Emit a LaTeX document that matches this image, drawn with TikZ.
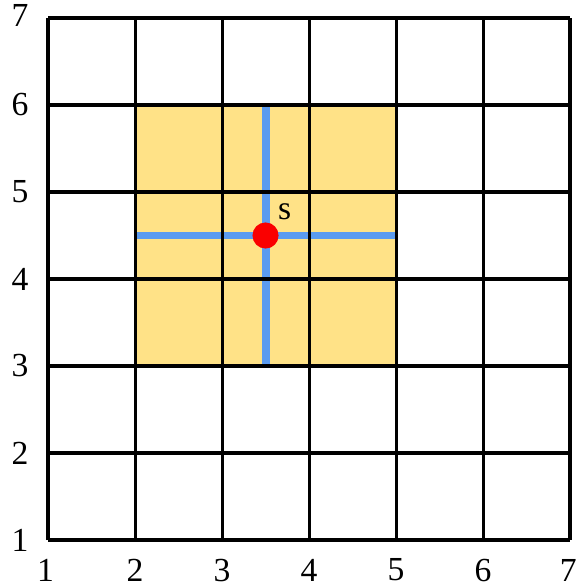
\documentclass[tikz,border=0pt]{standalone}
\usepackage{fontspec}
\setmainfont{Liberation Serif}
\usepackage{xcolor}
\usetikzlibrary{positioning}

\definecolor{regionyellow}{RGB}{255,226,135}
\definecolor{crossblue}{RGB}{91,155,240}
\definecolor{dotred}{RGB}{250,0,0}

\tikzset{
  axislabel/.style={inner sep=0pt, font=\fontsize{11}{13}\selectfont},
  crossline/.style={crossblue, line width=2.6pt},
}

\begin{document}
\begin{tikzpicture}

\useasboundingbox (0.448,0.460) rectangle (7.069,7.207);

% ---------- REGION ----------

\fill[regionyellow] (2,3) rectangle (5,6);
\draw[crossline] (2,4.5) -- (5,4.5);
\draw[crossline] (3.5,3) -- (3.5,6);

% ---------- GRID ----------

\draw[line width=1pt] (1,1) grid (7,7);

% ---------- POINT ----------

\node[circle, fill=dotred, inner sep=0pt, minimum size=0.30cm] (s) at (3.5,4.5) {};
\node[axislabel] (slabel) at (3.72,4.77) {s};

% ---------- EJE Y ----------

\node[axislabel] (y1) at (0.678,1) {1};
\node[axislabel] (y2) at (0.678,2) {2};
\node[axislabel] (y3) at (0.678,3) {3};
\node[axislabel] (y4) at (0.678,4) {4};
\node[axislabel] (y5) at (0.678,5) {5};
\node[axislabel] (y6) at (0.678,6) {6};
\node[axislabel] (y7) at (0.678,7.03) {7};

% ---------- EJE X ----------

\node[axislabel] (x1) at (0.97,0.655) {1};
\node[axislabel] (x2) at (2,0.655) {2};
\node[axislabel] (x3) at (3,0.655) {3};
\node[axislabel] (x4) at (4,0.655) {4};
\node[axislabel] (x5) at (5,0.655) {5};
\node[axislabel] (x6) at (6,0.655) {6};
\node[axislabel] (x7) at (6.98,0.655) {7};

\end{tikzpicture}
\end{document}
